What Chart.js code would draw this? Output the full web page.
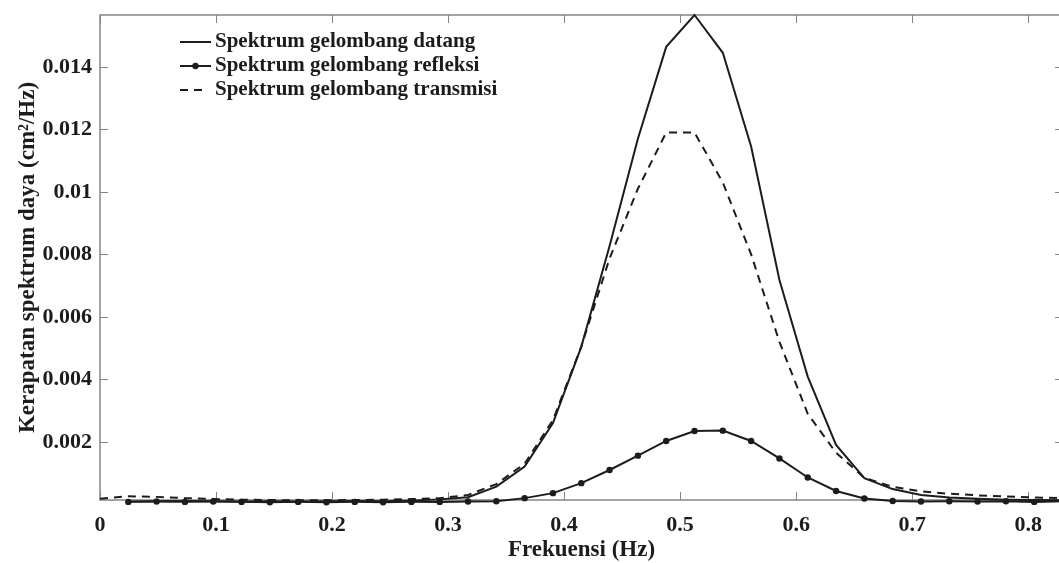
<!DOCTYPE html>
<html><head><meta charset="utf-8">
<script src="https://cdn.jsdelivr.net/npm/chart.js@4/dist/chart.umd.min.js"></script>
<style>
html,body{margin:0;padding:0;background:#fff;overflow:hidden;width:1059px;height:563px}
canvas{display:block}
</style></head>
<body>
<canvas id="c" width="1070" height="563"></canvas>
<script>
// Frequencies (Hz), k = 0..34
const frequencies = [0, 0.0244, 0.0488, 0.0732, 0.0976, 0.122, 0.1464, 0.1708, 0.1952, 0.2196, 0.244,
  0.2684, 0.2928, 0.3172, 0.3416, 0.366, 0.3904, 0.4148, 0.4392, 0.4636, 0.488, 0.5124, 0.5368,
  0.5612, 0.5856, 0.61, 0.6344, 0.6588, 0.6832, 0.7076, 0.732, 0.7564, 0.7808, 0.8052, 0.8296];

// Incident spectrum, k = 1..34
const spektrumDatang = [0.00009, 0.0001, 0.00011, 0.0001, 0.00009, 0.0001, 0.00009, 0.0001, 0.00011, 0.0001, 0.00012,
  0.00016, 0.00023, 0.00057, 0.00121, 0.0026, 0.00504, 0.00827, 0.0117, 0.01464, 0.01566, 0.01445,
  0.01145, 0.00718, 0.00409, 0.0019, 0.00084, 0.00049, 0.0003, 0.00022, 0.00018, 0.00015, 0.00014, 0.00013];

// Reflected spectrum, k = 1..34
const spektrumRefleksi = [0.00008, 0.00009, 0.00008, 0.00009, 0.00008, 0.00007, 0.00008, 0.00007, 0.00008, 0.00007, 0.00008,
  0.00008, 0.00009, 0.0001, 0.0002, 0.00036, 0.00068, 0.0011, 0.00156, 0.00203, 0.00235, 0.00236,
  0.00203, 0.00147, 0.00086, 0.00043, 0.00019, 0.00011, 0.00009, 0.0001, 0.00009, 0.0001, 0.00008, 0.0001];

// Transmitted spectrum, k = 0..34
const spektrumTransmisi = [0.00018, 0.00026, 0.00024, 0.0002, 0.00017, 0.00015, 0.00014, 0.00013, 0.00013, 0.00014, 0.00015,
  0.00017, 0.0002, 0.0003, 0.00065, 0.0013, 0.0027, 0.00505, 0.00787, 0.0101, 0.0119, 0.0119,
  0.0103, 0.008, 0.0052, 0.0029, 0.00165, 0.00085, 0.00056, 0.00042, 0.00034, 0.00029, 0.00025, 0.00022, 0.0002];

const xTickValues = [0, 0.1, 0.2, 0.3, 0.4, 0.5, 0.6, 0.7, 0.8];
const xTickLabels = ['0', '0.1', '0.2', '0.3', '0.4', '0.5', '0.6', '0.7', '0.8'];
const yTickValues = [0.002, 0.004, 0.006, 0.008, 0.01, 0.012, 0.014];
const yTickLabels = ['0.002', '0.004', '0.006', '0.008', '0.01', '0.012', '0.014'];
const seriesNames = ['Spektrum gelombang datang', 'Spektrum gelombang refleksi', 'Spektrum gelombang transmisi'];
const xTitle = 'Frekuensi (Hz)';
const yTitle = 'Kerapatan spektrum daya (cm\u00B2/Hz)';

const FONT = '"Liberation Serif", "Times New Roman", serif';
const INK = '#1c1c1c';
const AXIS = '#858585';

const toPoints = (xs, ys) => ys.map((v, i) => ({x: xs[i], y: v}));

const framePlugin = {
  id: 'frame',
  beforeDatasetsDraw(chart) {
    const {ctx, chartArea: a, scales: {x, y}} = chart;
    ctx.save();
    ctx.strokeStyle = AXIS;
    ctx.lineWidth = 1.5;
    ctx.strokeRect(a.left, a.top, a.right - a.left, a.bottom - a.top);
    ctx.lineWidth = 1;
    const tl = 8;
    ctx.beginPath();
    yTickValues.forEach(v => {
      const p = Math.round(y.getPixelForValue(v)) + 0.5;
      ctx.moveTo(a.left, p); ctx.lineTo(a.left + tl, p);
      ctx.moveTo(a.right, p); ctx.lineTo(a.right - tl, p);
    });
    xTickValues.forEach(v => {
      const p = Math.round(x.getPixelForValue(v)) + 0.5;
      ctx.moveTo(p, a.bottom); ctx.lineTo(p, a.bottom - tl);
      ctx.moveTo(p, a.top); ctx.lineTo(p, a.top + tl);
    });
    ctx.stroke();
    ctx.restore();
  },
  afterDraw(chart) {
    const {ctx} = chart;
    ctx.save();
    const rows = [42, 66, 90];
    const x0 = 180, x1 = 211, tx = 215;
    chart.data.datasets.forEach((ds, i) => {
      const yy = rows[i];
      ctx.strokeStyle = ds.borderColor;
      ctx.lineWidth = ds.borderWidth;
      ctx.setLineDash(ds.borderDash || []);
      ctx.beginPath();
      ctx.moveTo(x0, yy); ctx.lineTo(ds.borderDash && ds.borderDash.length ? 205 : x1, yy);
      ctx.stroke();
      ctx.setLineDash([]);
      if (ds.pointRadius > 0) {
        ctx.fillStyle = ds.pointBackgroundColor;
        ctx.beginPath(); ctx.arc((x0 + x1) / 2, yy, ds.pointRadius, 0, Math.PI * 2); ctx.fill();
      }
      ctx.fillStyle = INK;
      ctx.font = 'bold 21px ' + FONT;
      ctx.textBaseline = 'middle';
      ctx.textAlign = 'left';
      ctx.fillText(ds.label, tx, yy);
    });
    ctx.restore();
  }
};

new Chart(document.getElementById('c'), {
  type: 'line',
  data: {
    datasets: [
      {
        label: seriesNames[0],
        data: toPoints(frequencies.slice(1), spektrumDatang),
        borderColor: INK, borderWidth: 2, pointRadius: 0, tension: 0,
        clip: {left: 2, top: 3, right: 0, bottom: 8}
      },
      {
        label: seriesNames[1],
        data: toPoints(frequencies.slice(1), spektrumRefleksi),
        borderColor: INK, borderWidth: 2, pointRadius: 3.2,
        pointBackgroundColor: INK, pointBorderColor: INK, pointBorderWidth: 0, tension: 0,
        clip: {left: 2, top: 3, right: 0, bottom: 8}
      },
      {
        label: seriesNames[2],
        data: toPoints(frequencies, spektrumTransmisi),
        borderColor: INK, borderWidth: 2, borderDash: [8, 6], pointRadius: 0, tension: 0,
        clip: {left: 2, top: 3, right: 0, bottom: 8}
      }
    ]
  },
  options: {
    responsive: false,
    devicePixelRatio: 1,
    animation: false,
    layout: {padding: {top: 15, right: 7, left: 0, bottom: 0}},
    plugins: {legend: {display: false}, tooltip: {enabled: false}},
    scales: {
      x: {
        type: 'linear', min: 0, max: 0.83,
        grid: {display: false, drawTicks: false},
        border: {display: false},
        afterBuildTicks: s => { s.ticks = xTickValues.map(v => ({value: v})); },
        afterFit: s => { s.height = 63; s.paddingLeft = 0; s.paddingRight = 0; s.paddingTop = 0; s.paddingBottom = 0; },
        ticks: {
          padding: 12, color: INK, maxRotation: 0, autoSkip: false,
          font: {family: FONT, size: 22, weight: 'bold'},
          callback: (v, i) => xTickLabels[i]
        },
        title: {
          display: true, text: xTitle, color: INK,
          font: {family: FONT, size: 23, weight: 'bold', lineHeight: 1},
          padding: {top: 0, bottom: 1}
        }
      },
      y: {
        type: 'linear', min: 0.00014, max: 0.01566,
        grid: {display: false, drawTicks: false},
        border: {display: false},
        afterBuildTicks: s => { s.ticks = yTickValues.map(v => ({value: v})); },
        afterFit: s => { s.width = 100; s.paddingTop = 0; s.paddingBottom = 0; s.paddingLeft = 0; s.paddingRight = 0; },
        ticks: {
          padding: 8, color: INK, autoSkip: false,
          font: {family: FONT, size: 22, weight: 'bold'},
          callback: (v, i) => yTickLabels[i]
        },
        title: {
          display: true, text: yTitle, color: INK,
          font: {family: FONT, size: 23, weight: 'bold', lineHeight: 1.2},
          padding: {top: 14, bottom: 0}
        }
      }
    }
  },
  plugins: [framePlugin]
});
</script>
</body></html>
